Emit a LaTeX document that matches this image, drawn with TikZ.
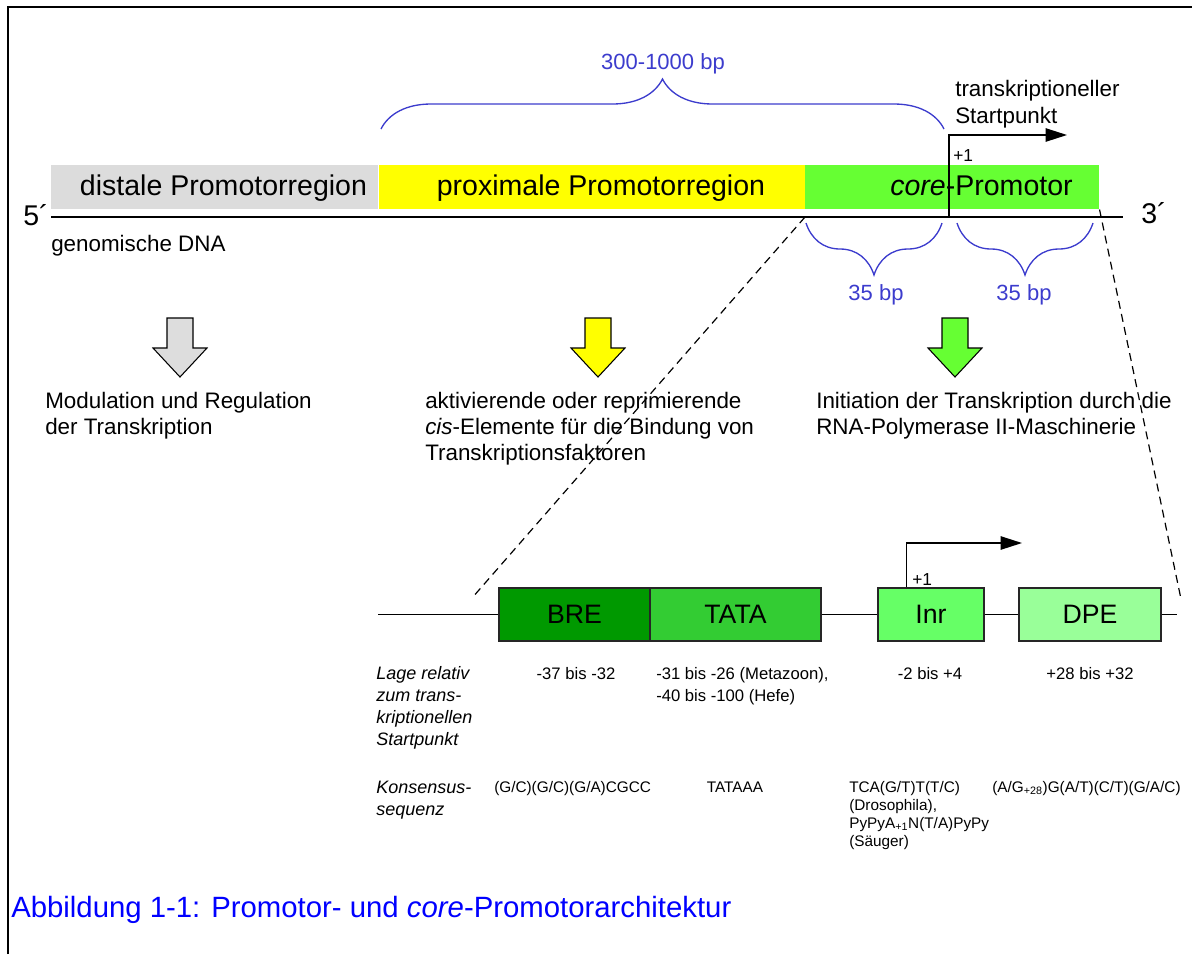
\documentclass[tikz,border=0pt]{standalone}
\usepackage{fontspec}
\setmainfont{Liberation Sans}
\usetikzlibrary{positioning,arrows.meta,decorations.pathreplacing}

\definecolor{distalgray}{RGB}{220,220,220}
\definecolor{arrowgray}{RGB}{221,221,221}
\definecolor{proxyellow}{RGB}{255,255,0}
\definecolor{coregreen}{RGB}{102,255,51}
\definecolor{bregreen}{RGB}{0,153,0}
\definecolor{tatagreen}{RGB}{51,204,51}
\definecolor{inrgreen}{RGB}{102,255,102}
\definecolor{dpegreen}{RGB}{153,255,153}
\definecolor{braceblue}{RGB}{60,60,205}
\definecolor{captionblue}{RGB}{0,0,255}

\tikzset{
    region/.style = {rectangle, inner sep=0pt, minimum height=33pt, anchor=north west},
    region-text/.style = {font=\fontsize{21.4}{25}\selectfont, inner sep=0pt, anchor=base},
    note/.style = {font=\fontsize{16.8}{19.5}\selectfont, inner sep=0pt, anchor=base west, align=left},
    bp-brace/.style = {draw=braceblue, line width=1pt, decorate, decoration={brace, amplitude=#1}},
    bp-text/.style = {text=braceblue, font=\fontsize{16.5}{19}\selectfont, inner sep=0pt, anchor=base},
    element/.style = {draw=black!85, line width=1.1pt, rectangle, inner sep=0pt, minimum height=39.75pt, font=\fontsize{20}{24}\selectfont},
    start-arrow/.style = {line width=1.1pt, -{Triangle[length=16pt,width=10pt]}},
    zoom-line/.style = {dash pattern=on 6pt off 4pt, line width=0.9pt},
    table-head/.style = {font=\itshape\fontsize{13.5}{16.5}\selectfont, inner sep=0pt, anchor=base west, align=left},
    pos-text/.style = {font=\fontsize{12.5}{16.5}\selectfont, inner sep=0pt},
    seq-text/.style = {font=\fontsize{11.5}{13.5}\selectfont, inner sep=0pt},
    downarrow/.pic = {\draw[pic actions, line width=0.8pt] (-13,0) -- (13,0) -- (13,30) -- (27,30) -- (0,59) -- (-27,30) -- (-13,30) -- cycle;},
}

\begin{document}
\begin{tikzpicture}[x=0.75pt, y=-0.75pt]
\useasboundingbox (0,0) rectangle (1192,954);
\draw[line width=1.8pt] (8,954) -- (8,7) -- (1192,7);

% promoter regions on the genomic DNA
\node[region, fill=distalgray, minimum width=245.25pt] (distal) at (51,165) {};
\node[region, fill=proxyellow, minimum width=319.5pt, right=0pt of distal] (proximal) {};
\node[region, fill=coregreen, minimum width=220.5pt] (core) at (805,165) {};
\node[region-text] (distal-text) at (223.5,195) {distale Promotorregion};
\node[region-text] (proximal-text) at (601,195) {proximale Promotorregion};
\node[region-text] (core-text) at (981.5,195) {\textit{core}-Promotor};

\coordinate (dna-5) at (51,217);
\coordinate (dna-3) at (1123,217);
\coordinate (dna-core) at (805,217);
\draw[line width=1.2pt] (dna-5) -- (dna-3);
\node[region-text, anchor=base west] (five) at (23,225) {5´};
\node[region-text, anchor=base west] (three) at (1141,223) {3´};
\node[note] (genomic) at (51,251) {genomische DNA};

% start point
\coordinate (tss) at (949,217);
\coordinate (tss-tip) at (1067,135);
\draw[start-arrow] (tss) |- (tss-tip);
\node[pos-text, font=\fontsize{13}{15}\selectfont, anchor=base west] (tss-one) at (953,161) {+1};
\node[note, font=\fontsize{16.8}{20}\selectfont] (tss-text) at (955,123) {transkriptioneller\\Startpunkt};

% lengths
\draw[bp-brace=37.5pt] (381,129) -- (944,129);
\node[bp-text] (bp-long) at (663,69) {300-1000 bp};
\draw[bp-brace=39pt] (942,223) -- (806,223);
\draw[bp-brace=39pt] (1093,223) -- (957,223);
\node[bp-text] (bp-up) at (876,300) {35 bp};
\node[bp-text] (bp-down) at (1024,300) {35 bp};

% functions
\pic[fill=arrowgray] (arrow-distal) at (180,318) {downarrow};
\pic[fill=proxyellow] (arrow-proximal) at (598,318) {downarrow};
\pic[fill=coregreen] (arrow-core) at (955,318) {downarrow};
\node[note] (distal-role) at (45,434) {Modulation und Regulation\\der Transkription};
\node[note] (proximal-role) at (425,460) {aktivierende oder reprimierende\\\textit{cis}-Elemente für die Bindung von\\Transkriptionsfaktoren};
\node[note] (core-role) at (816,434) {Initiation der Transkription durch die\\RNA-Polymerase II-Maschinerie};

% core promoter elements
\coordinate (lower-l) at (378,614.5);
\coordinate (lower-r) at (1177,614.5);
\node[element, fill=bregreen, minimum width=113.25pt] (BRE) at (574.5,614.5) {BRE};
\node[element, fill=tatagreen, minimum width=128.25pt, right=-1.1pt of BRE] (TATA) {TATA};
\node[element, fill=inrgreen, minimum width=79.5pt] (Inr) at (931,614.5) {Inr};
\node[element, fill=dpegreen, minimum width=106.5pt] (DPE) at (1090,614.5) {DPE};
\draw[line width=1pt] (lower-l) -- (BRE);
\draw[line width=1pt] (TATA) -- (Inr);
\draw[line width=1pt] (Inr) -- (DPE);
\draw[line width=1pt] (DPE) -- (lower-r);

\coordinate (inr-tip) at (1022,543);
\draw[start-arrow] ([xshift=21.75pt]Inr.north west) |- (inr-tip);
\node[pos-text, font=\fontsize{13}{15}\selectfont, anchor=base west] (inr-one) at (912,585) {+1};

\coordinate (zoom-l) at (472,598);
\coordinate (zoom-r) at (1181,599);
\draw[zoom-line] (dna-core) -- (zoom-l);
\draw[zoom-line] (core.south east) -- (zoom-r);

% table
\node[table-head] (pos-head) at (376,745) {Lage relativ\\zum trans-\\kriptionellen\\Startpunkt};
\node[pos-text, anchor=base] (bre-pos) at (576,679) {-37 bis -32};
\node[pos-text, anchor=base west, align=left] (tata-pos) at (656,701) {-31 bis -26 (Metazoon),\\-40 bis -100 (Hefe)};
\node[pos-text, anchor=base] (inr-pos) at (930,679) {-2 bis +4};
\node[pos-text, anchor=base] (dpe-pos) at (1090,679) {+28 bis +32};

\node[table-head] (seq-head) at (376,815) {Konsensus-\\sequenz};
\node[seq-text, anchor=base west] (bre-seq) at (494,792) {(G/C)(G/C)(G/A)CGCC};
\node[seq-text, anchor=base] (tata-seq) at (735,792) {TATAAA};
\node[seq-text, anchor=base west, align=left] (inr-seq) at (849,846) {TCA(G/T)T(T/C)\\(Drosophila),\\PyPyA\textsubscript{+1}N(T/A)PyPy\\(Säuger)};
\node[seq-text, anchor=base west] (dpe-seq) at (992,792) {(A/G\textsubscript{+28})G(A/T)(C/T)(G/A/C)};

\node[anchor=base west, text=captionblue, font=\fontsize{22}{26}\selectfont, inner sep=0pt] (caption) at (11,917) {Abbildung 1-1: Promotor- und \textit{core}-Promotorarchitektur};
\end{tikzpicture}
\end{document}
